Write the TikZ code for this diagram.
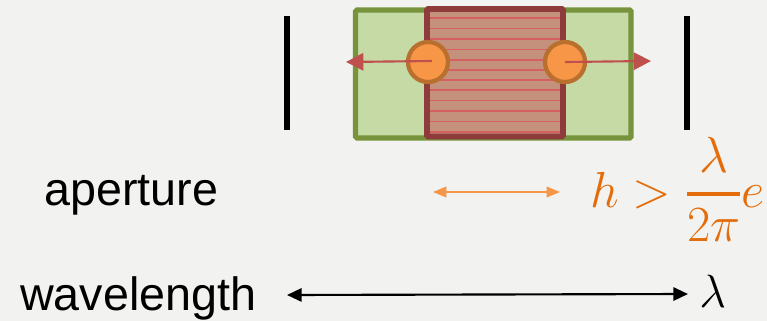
\RequirePackage{fix-cm}
\documentclass[tikz,border=0pt]{standalone}
\usepackage{amsmath}
\usepackage{fontspec}
\setmainfont{Liberation Sans}
\usetikzlibrary{arrows.meta}
\definecolor{bgc}{HTML}{F2F2F0}
\definecolor{gfill}{HTML}{C6DAA6}
\definecolor{gline}{HTML}{77933C}
\definecolor{rfill}{HTML}{C4927C}
\definecolor{rline}{HTML}{8E3B3B}
\definecolor{rstripe}{HTML}{D66060}
\definecolor{cfill}{HTML}{F79646}
\definecolor{cline}{HTML}{B9702E}
\definecolor{rarrow}{HTML}{C0504D}
\definecolor{oform}{HTML}{E46C0A}
\definecolor{oarrow}{HTML}{F79646}
\tikzset{
  bigtext/.style={font=\fontsize{35}{40}\selectfont, inner sep=0pt},
  formtext/.style={font=\fontsize{38}{44}\selectfont, inner sep=0pt, text=oform},
  particle/.style={circle, fill=cfill, draw=cline, line width=3.2pt, minimum size=30pt, inner sep=0pt},
  motion/.style={draw=rarrow, line width=1.6pt, -{Triangle[length=13pt,width=13pt]}},
  blackarrow/.style={draw=black, line width=1.6pt, {Triangle[length=11pt,width=10pt]}-{Triangle[length=11pt,width=10pt]}},
  orangearrow/.style={draw=oarrow, line width=1.2pt, {Triangle[length=10pt,width=8pt]}-{Triangle[length=10pt,width=8pt]}}
}
\begin{document}
\begin{tikzpicture}[x=0.75pt,y=-0.75pt]
\fill[bgc] (0,0) rectangle (767,321);
\useasboundingbox (0,0) rectangle (767,321);
% aperture bars
\fill[black] (284,16) rectangle (290,130);
\fill[black] (684,16) rectangle (690,130);
% green box
\draw[fill=gfill, draw=gline, line width=3.8pt, rounded corners=1pt] (355.5,10) rectangle (631,138);
% red box
\fill[rfill] (427,9) rectangle (563,136.5);
\foreach \yy in {18,28.5,39,49.5,60,70,80,90,100.5,111,121.5,132}
  \draw[rstripe, line width=0.8pt] (429,\yy) -- (561,\yy);
\draw[draw=rline, line width=4.4pt, rounded corners=1pt] (427,9) rectangle (563,136.5);
% particles
\node[particle] (pl) at (428,62) {};
\node[particle] (pr) at (565,62) {};
\coordinate (al) at (346,62);
\coordinate (ar) at (651,61);
\draw[motion] (pl.center) ++(4,-1) -- (al);
\draw[motion] (pr.center) -- (ar);
% aperture row
\node[bigtext, anchor=base west] (ap) at (44,205) {aperture};
\coordinate (oa1) at (433,192);
\coordinate (oa2) at (560,192);
\draw[orangearrow] (oa1) -- (oa2);
\node[formtext, anchor=base west] (form) at (590,207) {$h>\genfrac{}{}{2.8pt}{0}{\lambda}{2\pi}e$};
% wavelength row
\node[bigtext, anchor=base west] (wl) at (20,310) {wavelength};
\node[bigtext, anchor=base west] (lam) at (699,307) {$\lambda$};
\coordinate (wa1) at (287,295);
\coordinate (wa2) at (688,294);
\draw[blackarrow] (wa1) -- (wa2);
\end{tikzpicture}
\end{document}
